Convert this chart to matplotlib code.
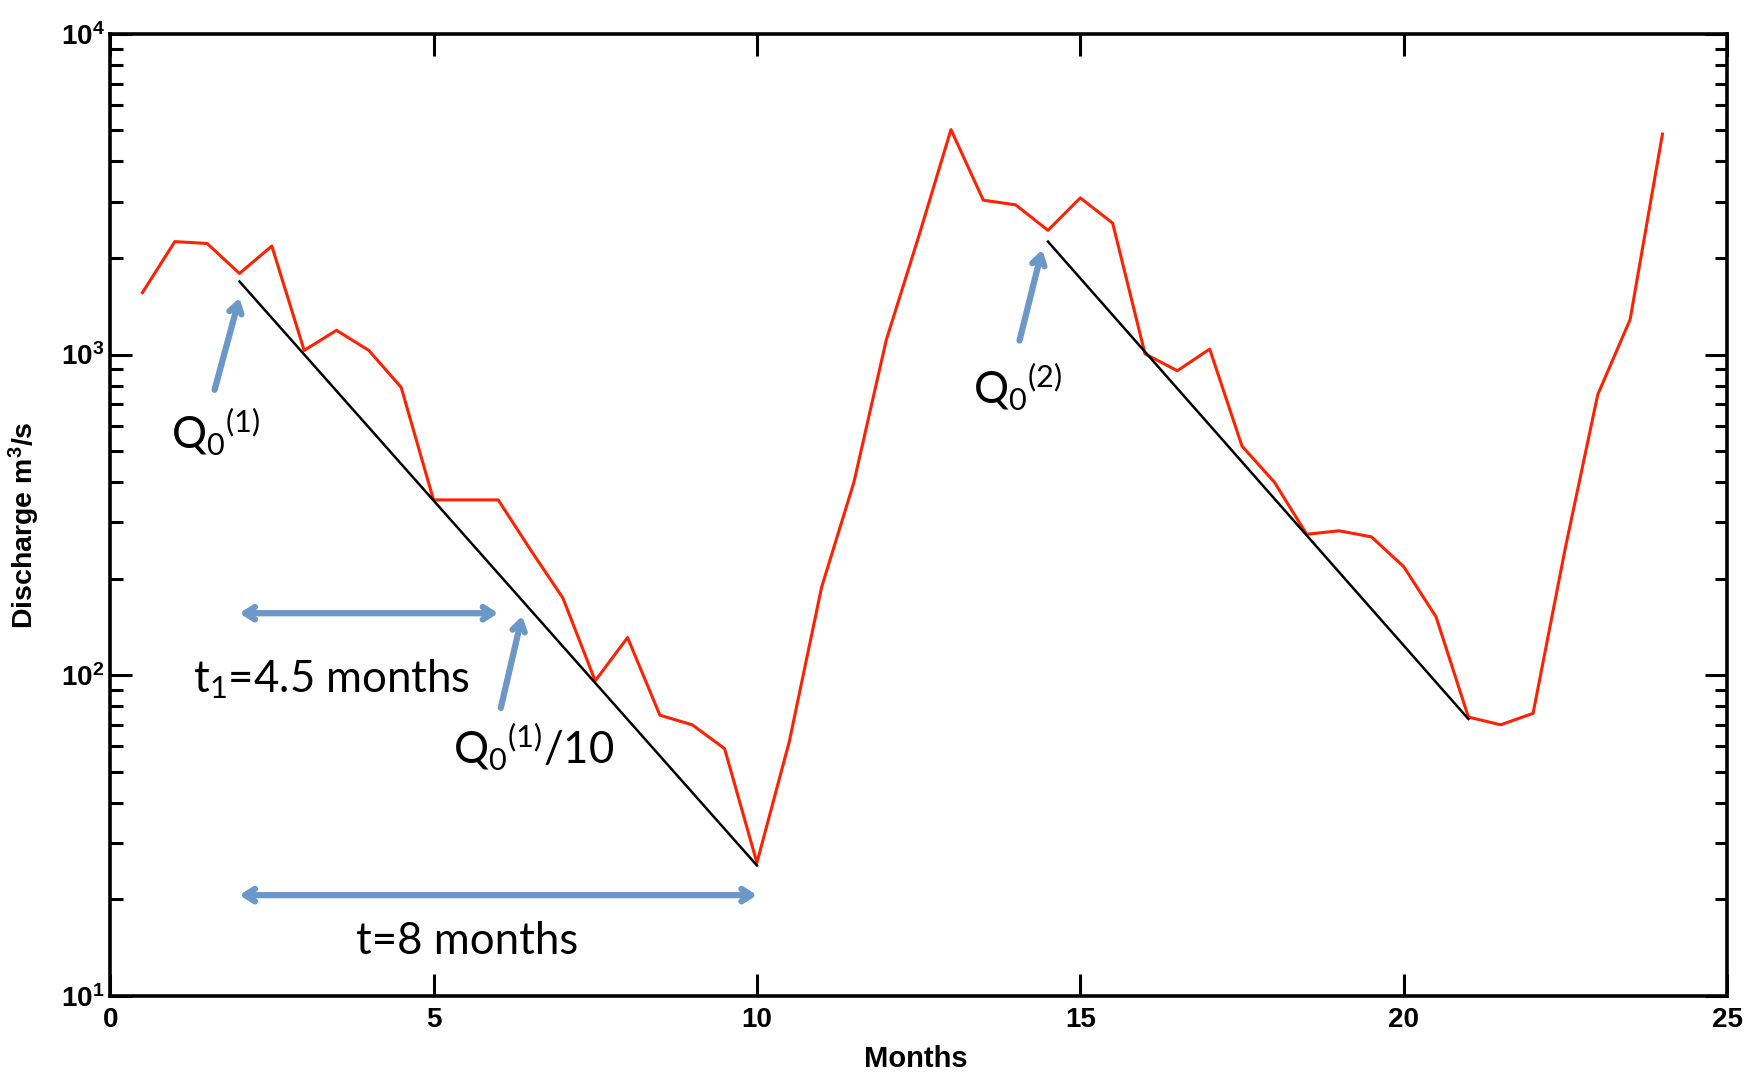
import matplotlib
matplotlib.use("Agg")
import matplotlib.pyplot as plt
from matplotlib.ticker import FixedLocator, LogLocator, NullFormatter, FixedFormatter

# --- data ---
months = [0.5, 1.0, 1.5, 2.0, 2.5, 3.0, 3.5, 4.0, 4.5, 5.0, 5.5, 6.0,
          6.5, 7.0, 7.5, 8.0, 8.5, 9.0, 9.5, 10.0, 10.5, 11.0, 11.5, 12.0,
          12.5, 13.0, 13.5, 14.0, 14.5, 15.0, 15.5, 16.0, 16.5, 17.0, 17.5, 18.0,
          18.5, 19.0, 19.5, 20.0, 20.5, 21.0, 21.5, 22.0, 22.5, 23.0, 23.5, 24.0]
discharge = [1560, 2250, 2220, 1790, 2180, 1030, 1190, 1030, 790, 352, 352, 352,
             246, 174, 96, 131, 75, 70, 59, 26, 62, 188, 400, 1110,
             2330, 5030, 3030, 2930, 2440, 3080, 2570, 1005, 890, 1040, 518, 400,
             275, 282, 270, 218, 152, 74, 70, 76, 250, 750, 1285, 4870]

fit1_x = [2.0, 10.0]
fit1_y = [1690, 25.5]
fit2_x = [14.5, 21.0]
fit2_y = [2250, 73]

xticks = [0, 5, 10, 15, 20, 25]
yticks = [10, 100, 1000, 10000]
ytick_labels = [r"$\mathbf{10^{1}}$", r"$\mathbf{10^{2}}$", r"$\mathbf{10^{3}}$", r"$\mathbf{10^{4}}$"]

# --- style ---
plt.rcParams["font.family"] = ["Liberation Sans", "DejaVu Sans"]
plt.rcParams["mathtext.fontset"] = "custom"
plt.rcParams["mathtext.rm"] = "Lato"
plt.rcParams["mathtext.it"] = "Lato"
plt.rcParams["mathtext.bf"] = "Liberation Sans:bold"
plt.rcParams["mathtext.default"] = "regular"

ARROW = "#6b97c9"
ANN_FONT = ["Lato", "DejaVu Sans"]

fig = plt.figure(figsize=(17.62, 10.8), dpi=100)
ax = fig.add_axes([0.0625, 0.078, 0.9177, 0.8906])

ax.plot(months, discharge, color="#ff2200", lw=2.2)
ax.plot(fit1_x, fit1_y, color="black", lw=1.8)
ax.plot(fit2_x, fit2_y, color="black", lw=1.8)

ax.set_yscale("log")
ax.set_xlim(0, 25)
ax.set_ylim(10, 10000)

ax.xaxis.set_major_locator(FixedLocator(xticks))
ax.set_xticklabels([str(t) for t in xticks], fontsize=20, fontweight="bold")
ax.yaxis.set_major_locator(FixedLocator(yticks))
ax.yaxis.set_major_formatter(FixedFormatter(ytick_labels))
ax.yaxis.set_minor_locator(LogLocator(base=10, subs=range(2, 10)))
ax.yaxis.set_minor_formatter(NullFormatter())
for lab in ax.get_yticklabels():
    lab.set_fontsize(20)

ax.tick_params(axis="x", which="major", pad=8)
ax.tick_params(axis="y", which="major", pad=4)
ax.tick_params(which="major", direction="in", length=16, width=2.2,
               top=True, right=True)
ax.tick_params(which="minor", direction="in", length=9, width=2.2,
               top=False, right=True)
for s in ax.spines.values():
    s.set_linewidth(2.6)

ax.set_xlabel("Months", fontsize=21, fontweight="bold")
ax.xaxis.set_label_coords(0.498, -0.051)
ax.set_ylabel(r"$\mathbf{Discharge\ m^{3}/s}$", fontsize=20.5)
ax.yaxis.set_label_coords(-0.042, 0.489)

# --- annotations ---
def arrow(x0, y0, x1, y1, style):
    ax.annotate("", xy=(x1, y1), xytext=(x0, y0),
                arrowprops=dict(arrowstyle=style, color=ARROW, lw=4.5,
                                shrinkA=0, shrinkB=0))

arrow(1.615, 776, 2.0, 1503, "->,head_length=0.7,head_width=0.45")
arrow(14.06, 1106, 14.41, 2123, "->,head_length=0.7,head_width=0.45")
arrow(6.04, 79, 6.37, 153, "->,head_length=0.7,head_width=0.45")
arrow(2.0, 156, 6.0, 156, "<->,head_length=0.7,head_width=0.45")
arrow(2.0, 20.6, 10.0, 20.6, "<->,head_length=0.7,head_width=0.45")

tkw = dict(fontsize=31.5, family=ANN_FONT, ha="center", va="center")
ax.text(1.63, 571, r"Q$_0$$^{(1)}$", **tkw)
ax.text(14.03, 789, r"Q$_0$$^{(2)}$", **tkw)
ax.text(6.55, 59.7, r"Q$_0$$^{(1)}$/10", **tkw)
ax.text(3.42, 97.5, r"t$_1$=4.5 months", **tkw)
ax.text(5.52, 14.8, "t=8 months", **tkw)

fig.savefig("out.png", dpi=100)
